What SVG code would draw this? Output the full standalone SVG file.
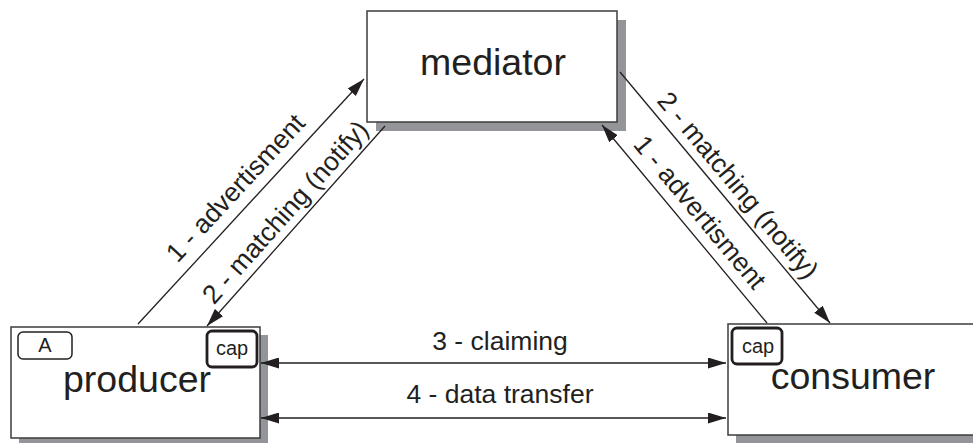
<svg xmlns="http://www.w3.org/2000/svg" width="973" height="443" viewBox="0 0 973 443">
<defs>
<style>
.shadow{fill:#939598;stroke:none}
.box{fill:#ffffff;stroke:#3c3c3e;stroke-width:1.5}
.badge{fill:#ffffff;stroke:#231f20;stroke-width:1.5}
.capb{fill:#ffffff;stroke:#231f20;stroke-width:2.8}
.big{font-family:"Liberation Sans",Arial,sans-serif;font-size:37.5px;fill:#231f20;text-anchor:middle}
.small{font-family:"Liberation Sans",Arial,sans-serif;font-size:20px;fill:#231f20;text-anchor:middle}
.lbl{font-family:"Liberation Sans",Arial,sans-serif;font-size:26.5px;fill:#231f20;text-anchor:middle}
.ln{stroke:#231f20;stroke-width:1.3;fill:none}
</style>
<marker id="ah" viewBox="0 0 18 11" refX="18" refY="5.5" markerWidth="18" markerHeight="11" markerUnits="userSpaceOnUse" orient="auto-start-reverse">
<path d="M0,0 L18,5.5 L0,11 Z" fill="#231f20"/>
</marker>
</defs>
<rect width="973" height="443" fill="#ffffff"/>
<g id="mediator">
<rect class="shadow" x="376" y="20" width="250" height="111"/>
<rect class="box" x="367" y="11" width="250" height="111"/>
<text class="big" x="493" y="75">mediator</text>
</g>
<g id="producer">
<rect class="shadow" x="19" y="335" width="249" height="111"/>
<rect class="box" x="11" y="327" width="249" height="111"/>
<rect class="badge" x="18" y="332" width="54" height="27" rx="5"/>
<text class="small" x="45" y="352">A</text>
<rect class="capb" x="207" y="331" width="50" height="36" rx="5"/>
<text class="small" x="232" y="355">cap</text>
<text class="big" x="137" y="392">producer</text>
</g>
<g id="consumer">
<rect class="shadow" x="736" y="332" width="250" height="111"/>
<rect class="box" x="728" y="324" width="250" height="111"/>
<rect class="capb" x="732" y="328" width="50" height="36" rx="5"/>
<text class="small" x="758" y="353">cap</text>
<text class="big" x="853" y="389">consumer</text>
</g>
<g id="connectors">
<line class="ln" x1="138" y1="324" x2="364" y2="79" marker-end="url(#ah)"/>
<line class="ln" x1="385" y1="126" x2="207" y2="326" marker-end="url(#ah)"/>
<line class="ln" x1="620" y1="72" x2="830" y2="323" marker-end="url(#ah)"/>
<line class="ln" x1="767" y1="323" x2="602" y2="125" marker-end="url(#ah)"/>
<line class="ln" x1="261" y1="363" x2="726" y2="363" marker-start="url(#ah)" marker-end="url(#ah)"/>
<line class="ln" x1="261" y1="418" x2="726" y2="418" marker-start="url(#ah)" marker-end="url(#ah)"/>
<text class="lbl" x="500" y="350">3 - claiming</text>
<text class="lbl" x="500" y="403">4 - data transfer</text>
<text class="lbl" transform="translate(242,194) rotate(-47.2)">1 - advertisment</text>
<text class="lbl" transform="translate(292,218) rotate(-48.3)">2 - matching (notify)</text>
<text class="lbl" transform="translate(731,191) rotate(50.1)">2 - matching (notify)</text>
<text class="lbl" transform="translate(693,218) rotate(50.2)">1 - advertisment</text>
</g>
</svg>
